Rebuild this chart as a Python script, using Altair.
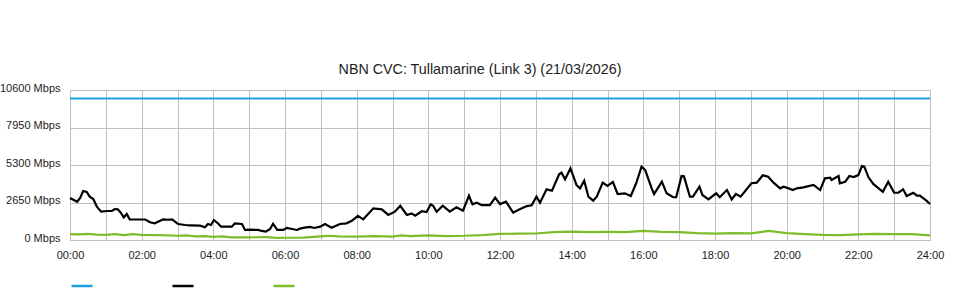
import altair as alt
import pandas as pd

# ---- data (time in minutes after midnight, values in Mbps) ----
capacity_minutes = [0, 1440]
capacity_values = [10000, 10000]

traffic_minutes = [
    0, 12, 17, 22, 28, 33, 39, 45, 52, 62, 70, 75, 80, 85, 90, 95, 100, 126, 134, 142,
    151, 156, 164, 171, 181, 193, 201, 218, 226, 231, 236, 241, 248, 253, 271, 276, 288, 293, 301, 315,
    321, 328, 335, 340, 347, 357, 363, 372, 380, 385, 393, 402, 409, 419, 427, 438, 452, 463, 472, 482,
    491, 508, 522, 533, 544, 553, 564, 572, 578, 589, 597, 604, 608, 614, 624, 636, 647, 658, 668, 674,
    681, 689, 703, 712, 720, 730, 742, 753, 765, 773, 781, 787, 798, 807, 819, 823, 829, 838, 848, 854,
    861, 868, 876, 882, 892, 900, 909, 917, 929, 939, 948, 957, 963, 974, 978, 991, 999, 1010, 1015, 1024,
    1028, 1038, 1043, 1054, 1059, 1069, 1082, 1088, 1100, 1108, 1115, 1123, 1141, 1150, 1160, 1169, 1178, 1189, 1195, 1203,
    1210, 1217, 1228, 1245, 1256, 1264, 1273, 1275, 1287, 1289, 1298, 1305, 1312, 1320, 1326, 1330, 1337, 1345, 1354, 1361,
    1370, 1380, 1387, 1395, 1401, 1412, 1418, 1423, 1434, 1440,
]
traffic_values = [
    2970, 2700, 2970, 3460, 3390, 3060, 2900, 2350, 2000, 2050, 2050, 2190, 2170, 1930, 1600, 1840, 1460, 1450, 1250, 1180,
    1360, 1460, 1430, 1460, 1130, 1060, 1040, 1010, 900, 1130, 1060, 1410, 1170, 940, 940, 1180, 1130, 710, 730, 710,
    640, 590, 780, 1150, 710, 710, 850, 780, 710, 800, 870, 920, 850, 940, 1130, 870, 1130, 1180, 1360, 1700,
    1460, 2240, 2170, 1770, 2000, 2420, 1770, 1880, 1720, 2030, 1980, 2520, 2420, 2000, 2420, 2000, 2310, 2070, 3130, 2520,
    2640, 2470, 2470, 2990, 2540, 2710, 1930, 2170, 2400, 2450, 3060, 2640, 3580, 3480, 4640, 4760, 4290, 5070, 3890, 3650,
    4190, 3060, 2780, 3060, 4050, 3820, 4100, 3250, 3300, 3110, 4010, 5180, 4950, 3650, 3250, 4120, 3300, 3020, 3020, 4520,
    4500, 3060, 3060, 3770, 3180, 2870, 3300, 3020, 3530, 2870, 3250, 3060, 4010, 4050, 4570, 4470, 4050, 3650, 3770, 3650,
    3530, 3650, 3720, 3890, 3530, 4360, 4400, 4240, 4520, 4010, 4120, 4520, 4450, 4590, 5230, 5180, 4430, 3960, 3650, 3410,
    4120, 3340, 3340, 3580, 3110, 3340, 3130, 3130, 2780, 2540,
]

other_minutes = [
    0, 15, 30, 45, 60, 75, 90, 105, 120, 150, 180, 195, 210, 225, 240, 255, 270, 300, 330, 345,
    360, 390, 420, 435, 450, 480, 510, 540, 555, 570, 600, 630, 660, 690, 720, 750, 780, 810, 840, 870,
    900, 930, 960, 990, 1020, 1050, 1080, 1110, 1140, 1170, 1200, 1230, 1260, 1290, 1320, 1350, 1380, 1410, 1440,
]
other_values = [
    420, 400, 430, 380, 360, 420, 350, 410, 360, 340, 300, 320, 250, 280, 220, 250, 180, 190, 200, 150,
    160, 170, 250, 300, 250, 240, 270, 240, 330, 280, 320, 280, 300, 350, 430, 450, 460, 560, 590, 560,
    570, 560, 640, 580, 560, 480, 450, 480, 470, 640, 480, 420, 360, 350, 400, 430, 420, 420, 330,
]

series_names = ["Capacity", "Traffic", "Other"]
series_colors = ["#1ba1e2", "#000000", "#7cbd2a"]

y_ticks = [0, 2650, 5300, 7950, 10600]
x_ticks = list(range(0, 25))

rows = []
for name, mins, vals in [
    ("Capacity", capacity_minutes, capacity_values),
    ("Traffic", traffic_minutes, traffic_values),
    ("Other", other_minutes, other_values),
]:
    for m, v in zip(mins, vals):
        rows.append({"series": name, "hour": m / 60.0, "mbps": v, "order": series_names.index(name)})
df = pd.DataFrame(rows)

FONT = "Liberation Sans"
GRID = "#c0c0c0"

chart = (
    alt.Chart(df)
    .mark_line(strokeWidth=2.2, interpolate="linear")
    .encode(
        x=alt.X(
            "hour:Q",
            scale=alt.Scale(domain=[0, 24], nice=False, zero=False),
            axis=alt.Axis(
                values=x_ticks,
                labelExpr="datum.value % 2 == 0 ? (datum.value < 10 ? '0' : '') + datum.value + ':00' : ''",
                title=None,
                grid=True,
                gridColor=GRID,
                domainColor=GRID,
                ticks=False,
                labelPadding=9,
                labelFontSize=11,
                labelColor="#222222",
                labelFont=FONT,
                labelFlush=False,
                labelOverlap=False,
            ),
        ),
        y=alt.Y(
            "mbps:Q",
            scale=alt.Scale(domain=[0, 10600], nice=False),
            axis=alt.Axis(
                values=y_ticks,
                labelExpr="datum.value + ' Mbps'",
                title=None,
                grid=True,
                gridColor=GRID,
                domainColor=GRID,
                ticks=False,
                labelPadding=10,
                labelFontSize=11,
                labelColor="#222222",
                labelFont=FONT,
                labelOffset=-2,
                labelFlush=False,
            ),
        ),
        color=alt.Color(
            "series:N",
            scale=alt.Scale(domain=series_names, range=series_colors),
            legend=alt.Legend(
                orient="none",
                legendX=0,
                legendY=184,
                direction="horizontal",
                title=None,
                symbolType="stroke",
                symbolSize=440,
                symbolStrokeWidth=2.5,
                labelExpr="''",
                labelFontSize=11,
                labelOffset=0,
                columnPadding=69,
                padding=0,
            ),
        ),
        detail="series:N",
        order="order:Q",
    )
    .properties(
        width=860,
        height=150,
        title=alt.TitleParams(
            "NBN CVC: Tullamarine (Link 3) (21/03/2026)",
            fontSize=14.3,
            font=FONT,
            fontWeight="normal",
            color="#222222",
            anchor="middle",
            offset=5,
            dx=-20,
        ),
        autosize=alt.AutoSizeParams(type="none"),
        padding={"left": 70, "top": 90, "right": 30, "bottom": 60},
    )
    .configure_view(stroke=GRID, strokeWidth=1)
    .configure(background="white")
)

chart.save("out.html", embed_options={"renderer": "svg", "actions": False})
